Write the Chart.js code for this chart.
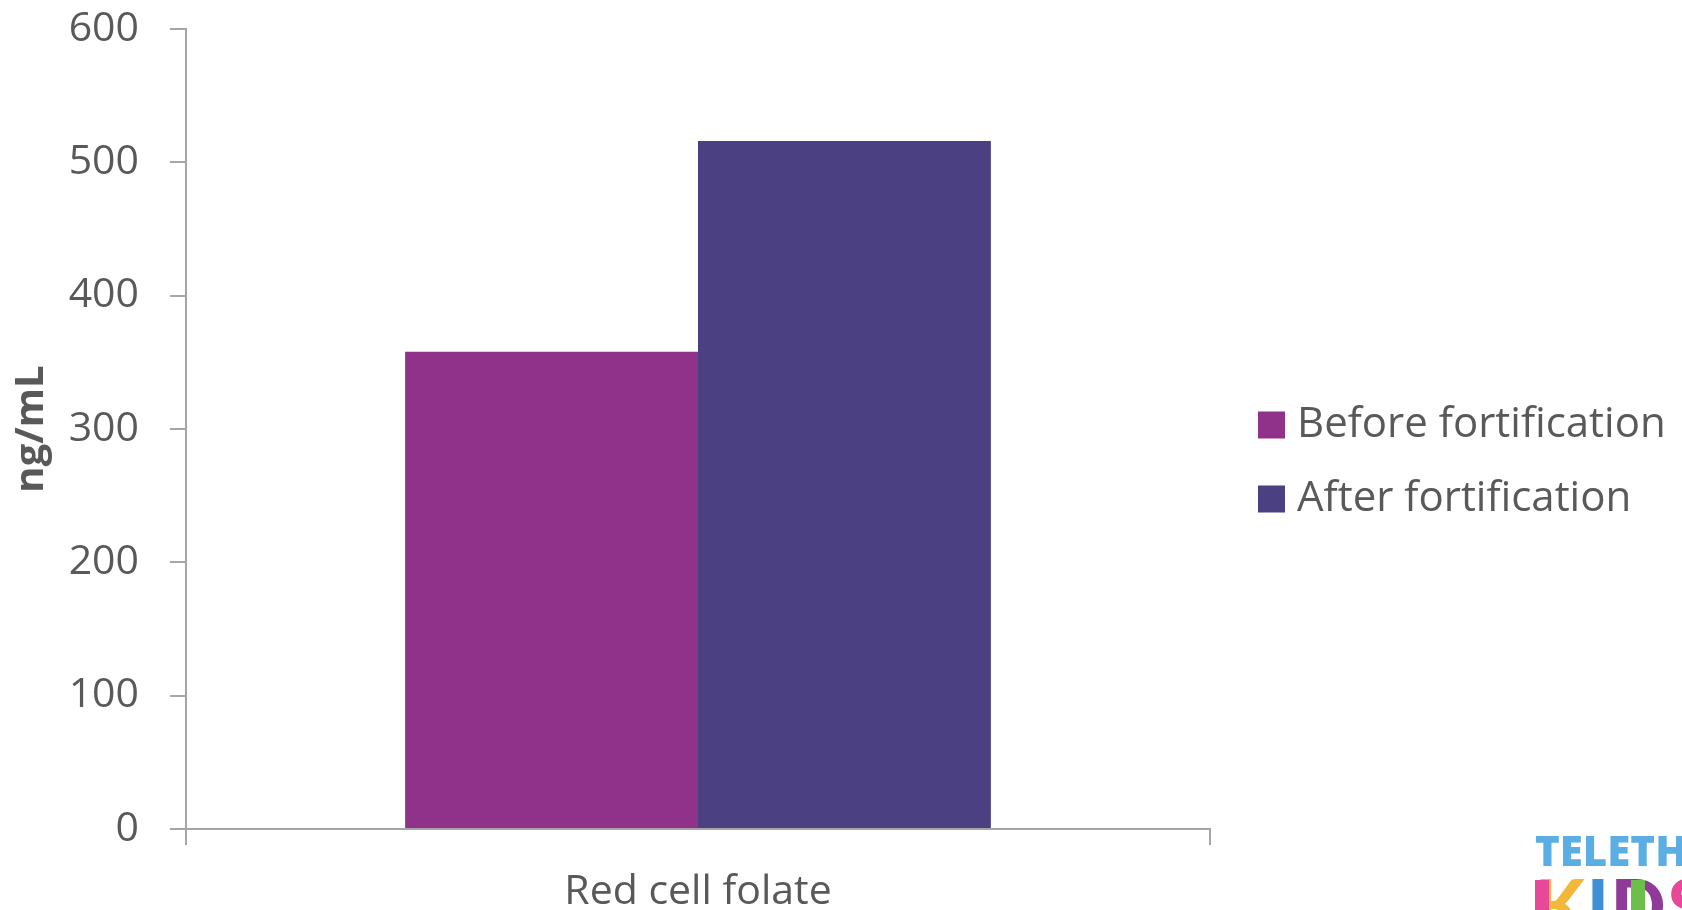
<!DOCTYPE html>
<html>
<head>
<meta charset="utf-8">
<script src="https://cdn.jsdelivr.net/npm/chart.js@4.4.1/dist/chart.umd.min.js"></script>
<style>
  html, body { margin: 0; padding: 0; background: #ffffff; overflow: hidden; }
  #wrap { position: relative; width: 1682px; height: 910px; }
</style>
</head>
<body>
<div id="wrap"><canvas id="grafico"></canvas></div>
<script>
// Datos
const categorias = ['Red cell folate'];
const series = ['Before fortification', 'After fortification'];
const antes = [358];
const despues = [516];
const colores = ['#90318a', '#4b4182'];
const ejeY = { min: 0, max: 600, paso: 100 };

const gris = '#595959';
const lineaEje = '#a6a6a6';
const fuente = '"Open Sans", Lato, sans-serif';

// Leyenda a la derecha, dibujada a mano
const leyendaLateral = {
    id: 'leyendaLateral',
    afterDraw(chart) {
        const ctx = chart.ctx;
        ctx.save();
        ctx.font = '42px ' + fuente;
        ctx.textBaseline = 'middle';
        ctx.textAlign = 'left';
        chart.data.datasets.forEach((ds, i) => {
            const yc = 425 + i * 74;
            ctx.fillStyle = ds.backgroundColor;
            ctx.fillRect(1258, yc - 13.5, 27, 27);
            ctx.fillStyle = gris;
            ctx.fillText(ds.label, 1297, yc);
        });
        ctx.restore();
    }
};

// Logo de la esquina
const logo = {
    id: 'logo',
    afterDraw(chart) {
        const ctx = chart.ctx;
        ctx.save();
        ctx.font = '800 42px "Open Sans", sans-serif';
        ctx.textBaseline = 'alphabetic';
        ctx.fillStyle = '#5aaee3';
        ctx.fillText('TELETHON', 1535, 866);
        ctx.font = '900 72px Lato, sans-serif';
        const letras = [['K', '#f3b73a'], ['I', '#3d8fd6'], ['D', '#8f3a98'], ['S', '#e8489a']];
        let x = 1535;
        letras.forEach(([l, c]) => {
            ctx.fillStyle = c;
            ctx.fillText(l, x, 932);
            x += ctx.measureText(l).width + 2;
        });
        ctx.fillStyle = '#e8489a';
        ctx.fillRect(1535, 880, 14, 30);
        ctx.fillStyle = '#6cbf4a';
        ctx.fillRect(1631, 880, 14, 30);
        ctx.restore();
    }
};

// Sin relleno extra por las etiquetas: el área del gráfico la fija layout.padding
function sinRelleno(scale) {
    scale.paddingTop = 0;
    scale.paddingBottom = 0;
    scale.paddingLeft = 0;
    scale.paddingRight = 0;
}

const ctx = document.getElementById('grafico').getContext('2d');
const chart = new Chart(ctx, {
    type: 'bar',
    data: {
        labels: categorias,
        datasets: [
            { label: series[0], data: antes, backgroundColor: colores[0] },
            { label: series[1], data: despues, backgroundColor: colores[1] }
        ]
    },
    options: {
        responsive: true,
        maintainAspectRatio: false,
        animation: false,
        layout: { padding: { top: 29, right: 472, bottom: 0, left: 0 } },
        datasets: { bar: { categoryPercentage: 0.572, barPercentage: 1.0 } },
        plugins: {
            legend: { display: false },
            tooltip: { enabled: false }
        },
        scales: {
            x: {
                afterFit(scale) { scale.height = 81; sinRelleno(scale); },
                grid: { offset: true, drawOnChartArea: false, drawTicks: true, tickLength: 16, tickColor: lineaEje, lineWidth: 2 },
                border: { color: lineaEje, width: 2 },
                ticks: { color: gris, font: { family: fuente, size: 41 }, padding: 23 }
            },
            y: {
                min: ejeY.min,
                max: ejeY.max,
                afterFit(scale) { scale.width = 186; sinRelleno(scale); },
                grid: { drawOnChartArea: false, drawTicks: true, tickLength: 16, tickColor: lineaEje, lineWidth: 2 },
                border: { color: lineaEje, width: 2 },
                ticks: { stepSize: ejeY.paso, color: gris, font: { family: fuente, size: 41 }, padding: 31 },
                title: {
                    display: true,
                    text: 'ng/mL',
                    color: gris,
                    font: { family: fuente, size: 40, weight: 'bold' },
                    padding: { top: 8, bottom: 0 }
                }
            }
        }
    },
    plugins: [leyendaLateral, logo]
});
</script>
</body>
</html>
